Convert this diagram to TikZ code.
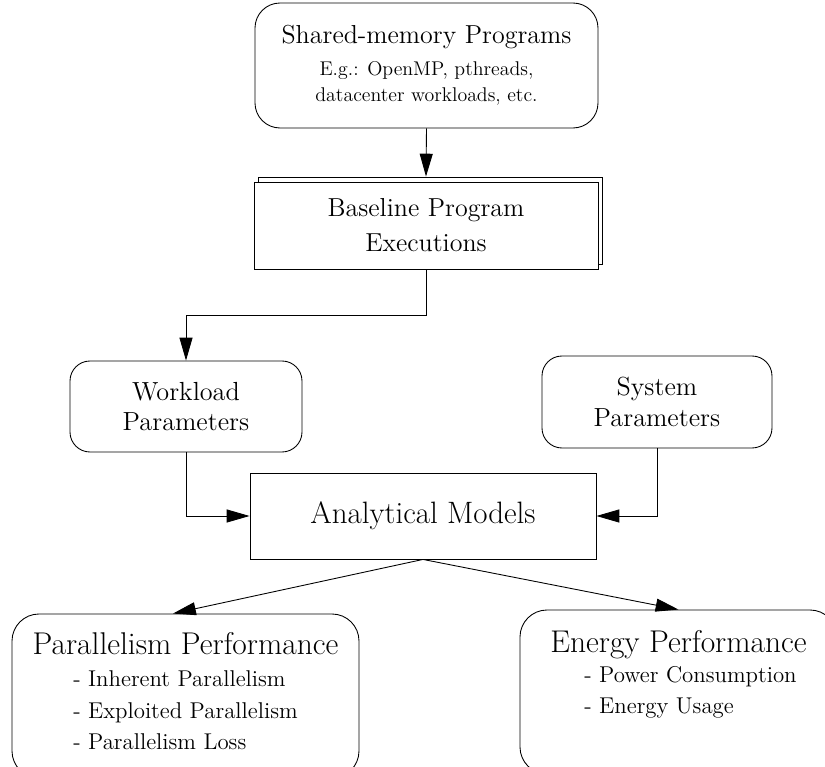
\documentclass[tikz,border=0pt]{standalone}
\usepackage{tikz}
\usetikzlibrary{arrows.meta,positioning,shadows}

\begin{document}
\begin{tikzpicture}[
  x=1cm,y=1cm,
  rbox/.style={draw,line width=0.5pt,rounded corners=0.5cm,align=center,inner sep=0pt},
  pbox/.style={draw,line width=0.5pt,fill=white,align=center,inner sep=0pt},
  stack/.style={pbox,copy shadow={shadow xshift=0.08cm,shadow yshift=0.1cm,draw=black,fill=white,line width=0.5pt}},
  flow/.style={-{Triangle[length=13pt,width=7.4pt]},line width=0.5pt},
  headfont/.style={font=\fontsize{14.9}{17.4}\selectfont},
  listfont/.style={font=\fontsize{13}{18}\selectfont}
]
\useasboundingbox (0,0) rectangle (16.5,-15.34);
\clip (0,0) rectangle (16.5,-15.34);

\node[rbox,minimum width=6.86cm,minimum height=2.5cm,font=\fontsize{11.3}{14.8}\selectfont] (prog) at (8.53,-1.31) {
  {\fontsize{14.8}{17}\selectfont Shared-memory Programs}\\[3.4pt]
  E.g.: OpenMP, pthreads,\\
  datacenter workloads, etc.
};
\node[stack,minimum width=6.88cm,minimum height=1.74cm,font=\fontsize{14.8}{19.9}\selectfont] (base) at (8.52,-4.51) {
  Baseline Program\\ Executions
};
\draw[flow] (prog.south) -- ([yshift=0.1cm]base.north);

\node[rbox,rounded corners=0.4cm,minimum width=4.64cm,minimum height=1.82cm,headfont] (work) at (3.72,-8.13) {Workload\\ Parameters};
\node[rbox,rounded corners=0.4cm,minimum width=4.6cm,minimum height=1.84cm,headfont] (sys) at (13.14,-8.04) {System\\ Parameters};
\draw[flow] (base.south) -- ++(0,-0.92) -| (work.north);

\node[pbox,minimum width=6.92cm,minimum height=1.72cm,font=\fontsize{17.6}{19}\selectfont] (model) at (8.46,-10.32) {Analytical Models};
\draw[flow] (work.south) |- (model.west);
\draw[flow] (sys.south) |- (model.east);

\node[rbox,rounded corners=0.54cm,minimum width=6.94cm,minimum height=3.28cm,listfont] (par) at (3.71,-13.92) {
  {\fontsize{17.9}{18}\selectfont Parallelism Performance}\\
  \begin{tabular}[t]{@{}l@{}}- Inherent Parallelism\\ - Exploited Parallelism\\ - Parallelism Loss\end{tabular}
};
\node[rbox,rounded corners=0.54cm,minimum width=6.34cm,minimum height=3.28cm,font=\fontsize{13}{17.6}\selectfont] (energy) at (13.57,-13.84) {
  {\fontsize{17.9}{18}\selectfont Energy Performance}\\
  \hspace*{0.48cm}\begin{tabular}[t]{@{}l@{}}- Power Consumption\\ - Energy Usage\\ \strut\end{tabular}
};
\draw[flow] (model.south) -- ([xshift=-0.25cm]par.north);
\draw[flow] (model.south) -- (energy.north);
\end{tikzpicture}
\end{document}
